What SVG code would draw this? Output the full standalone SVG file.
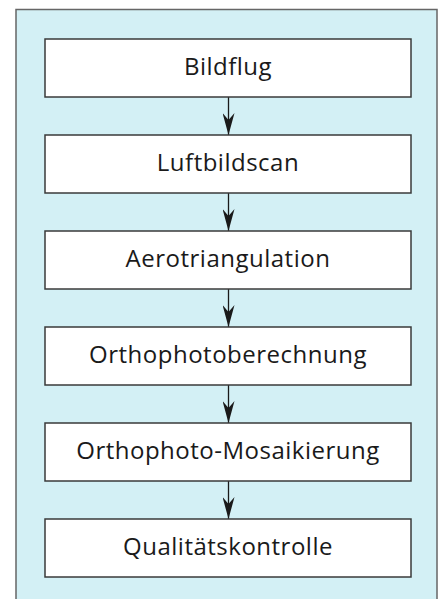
<svg xmlns="http://www.w3.org/2000/svg" width="441" height="599" viewBox="0 0 441 599">
<defs>
<style>
.box{fill:#ffffff;stroke:#3a3a3a;stroke-width:1.5}
.lbl{font-family:"Open Sans","Noto Sans",sans-serif;font-size:24px;letter-spacing:0.5px;fill:#1a1a1a;text-anchor:middle}
.con{stroke:#1a1a1a;stroke-width:1.3;fill:none}
</style>
<marker id="ah" markerWidth="22" markerHeight="12" refX="22" refY="6" orient="auto" markerUnits="userSpaceOnUse" viewBox="0 0 22 12">
<path d="M0,0 L22,6 L0,12 L7,6 Z" fill="#1a1a1a"/>
</marker>
</defs>
<rect x="0" y="0" width="441" height="599" fill="#ffffff"/>
<rect x="16" y="9.5" width="421" height="600" fill="#d3f0f5" stroke="#666666" stroke-width="1.5"/>
<g id="connectors">
<line class="con" x1="228.5" y1="97" x2="228.5" y2="135" marker-end="url(#ah)"/>
<line class="con" x1="228.5" y1="193" x2="228.5" y2="231" marker-end="url(#ah)"/>
<line class="con" x1="228.5" y1="289" x2="228.5" y2="327" marker-end="url(#ah)"/>
<line class="con" x1="228.5" y1="385" x2="228.5" y2="423" marker-end="url(#ah)"/>
<line class="con" x1="228.5" y1="481" x2="228.5" y2="519" marker-end="url(#ah)"/>
</g>
<g id="n1"><rect class="box" x="45" y="39" width="366" height="58"/><text class="lbl" x="228" y="75">Bildflug</text></g>
<g id="n2"><rect class="box" x="45" y="135" width="366" height="58"/><text class="lbl" x="228" y="171">Luftbildscan</text></g>
<g id="n3"><rect class="box" x="45" y="231" width="366" height="58"/><text class="lbl" x="228" y="267">Aerotriangulation</text></g>
<g id="n4"><rect class="box" x="45" y="327" width="366" height="58"/><text class="lbl" x="228" y="363">Orthophotoberechnung</text></g>
<g id="n5"><rect class="box" x="45" y="423" width="366" height="58"/><text class="lbl" x="228" y="459">Orthophoto-Mosaikierung</text></g>
<g id="n6"><rect class="box" x="45" y="519" width="366" height="58"/><text class="lbl" x="228" y="555">Qualitätskontrolle</text></g>
</svg>
